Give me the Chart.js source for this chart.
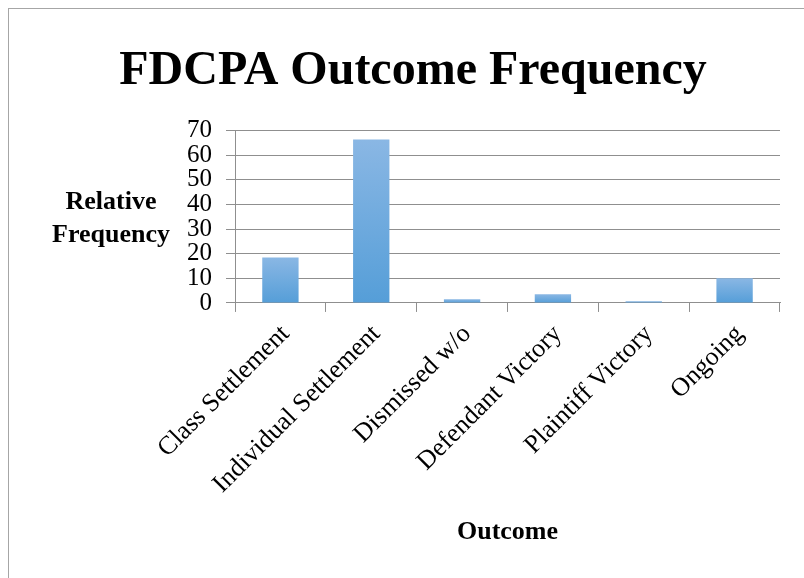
<!DOCTYPE html>
<html>
<head>
<meta charset="utf-8">
<script src="https://cdn.jsdelivr.net/npm/chart.js@4.4.1/dist/chart.umd.min.js"></script>
<style>
    html, body { margin: 0; padding: 0; background: #fff; overflow: hidden; }
    #frame {
        position: absolute; left: 8px; top: 8px; width: 820px; height: 600px;
        border-left: 1px solid #a6a6a6; border-top: 1px solid #a6a6a6;
    }
    #wrap { position: absolute; left: 0; top: 0; width: 804px; height: 578px; }
</style>
</head>
<body>
<div id="frame"></div>
<div id="wrap"><canvas id="outcomeChart" width="804" height="578"></canvas></div>
<script>
const categories = ['Class Settlement', 'Individual Settlement', 'Dismissed w/o', 'Defendant Victory', 'Plaintiff Victory', 'Ongoing'];
const frequency = [18.5, 66.4, 1.5, 3.5, 0.7, 10.0];
const yTicks = [0, 10, 20, 30, 40, 50, 60, 70];
const yTitleLines = ['Relative', 'Frequency'];

const serif = "'Liberation Serif', 'Times New Roman', serif";
const gridGrey = '#8f8f8f';

function barGradient(context) {
    const chart = context.chart;
    if (!chart.chartArea) return '#6aa8de';
    const y = chart.scales.y;
    const top = y.getPixelForValue(context.raw);
    const bottom = y.getPixelForValue(0);
    const g = chart.ctx.createLinearGradient(0, top, 0, bottom);
    g.addColorStop(0, '#8ab7e4');
    g.addColorStop(1, '#559ed8');
    return g;
}

// horizontal y-axis title, Chart.js only draws it rotated
const sideTitle = {
    id: 'sideTitle',
    afterDraw(chart) {
        const ctx = chart.ctx;
        ctx.save();
        ctx.font = 'bold 26px ' + serif;
        ctx.fillStyle = '#000';
        ctx.textAlign = 'center';
        ctx.textBaseline = 'middle';
        ctx.fillText(yTitleLines[0], 111, 202);
        ctx.fillText(yTitleLines[1], 111, 235);
        ctx.restore();
    }
};

new Chart(document.getElementById('outcomeChart'), {
    type: 'bar',
    data: {
        labels: categories,
        datasets: [{
            label: 'Relative Frequency',
            data: frequency,
            backgroundColor: barGradient,
            borderWidth: 0,
            categoryPercentage: 1,
            barPercentage: 0.4
        }]
    },
    options: {
        responsive: false,
        animation: false,
        layout: { padding: { left: 46, right: 24, top: 0, bottom: 30 } },
        scales: {
            x: {
                grid: { offset: true, drawOnChartArea: false, drawTicks: true, tickLength: 9, color: gridGrey },
                border: { display: true, color: gridGrey },
                ticks: {
                    minRotation: 45, maxRotation: 45, autoSkip: false, labelOffset: 5,
                    color: '#000', font: { family: serif, size: 26 }, padding: 7
                },
                title: {
                    display: true, text: 'Outcome', color: '#000',
                    font: { family: serif, size: 26, weight: 'bold' },
                    padding: { top: 10, bottom: 0 }
                }
            },
            y: {
                min: 0, max: 70,
                afterBuildTicks: axis => { axis.ticks = yTicks.map(v => ({ value: v })); },
                afterFit: axis => { axis.width = 189; },
                grid: { color: gridGrey, tickLength: 9 },
                border: { display: true, color: gridGrey },
                ticks: { autoSkip: false, color: '#000', font: { family: serif, size: 25 }, padding: 14 }
            }
        },
        plugins: {
            legend: { display: false },
            tooltip: { enabled: false },
            title: {
                display: true, text: 'FDCPA Outcome Frequency', color: '#000',
                font: { family: serif, size: 48, weight: 'bold' },
                padding: { top: 43, bottom: 30 }
            }
        }
    },
    plugins: [sideTitle]
});
</script>
</body>
</html>
